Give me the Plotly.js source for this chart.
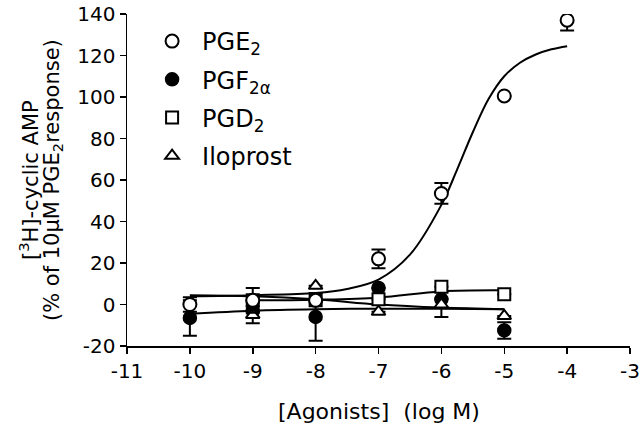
<!DOCTYPE html>
<html>
<head>
<meta charset="utf-8">
<script src="https://cdn.plot.ly/plotly-3.0.1.min.js"></script>
<style>html,body{margin:0;padding:0;background:#fff;}</style>
</head>
<body>
<div id="chart" style="width:640px;height:430px;"></div>
<script>
// Data
const logM = [-10, -9, -8, -7, -6, -5, -4];

const pge2 = [0, 2, 2, 22, 53.5, 100.5, 137];
const pge2Err = [3.5, 6, 0, 4.5, 5, 0, 5];

const pgf2aX = [-10, -9, -8, -7, -6, -5];
const pgf2a = [-6.5, -3, -6, 8, 2.5, -12.5];
const pgf2aErr = [8.5, 0, 11.5, 0, 0, 4];

const pgd2X = [-9, -8, -7, -6, -5];
const pgd2 = [2, 2, 2.5, 8.5, 5];
const pgd2Err = [0, 0, 0, 0, 0];

const iloX = [-9, -8, -7, -6, -5];
const ilo = [-5, 9, -3.5, 0, -5.5];
const iloErr = [4, 0, 0, 6, 0];

// Fitted curves
const pge2FitX = [-10, -9, -8, -7.5, -7, -6.5, -6, -5.75, -5.5, -5.25, -5, -4.75, -4.5, -4.25, -4];
const pge2FitY = [4, 4.5, 5.5, 7.5, 12, 24, 48, 65, 83, 99, 110, 116.5, 120.5, 123, 124.5];

const pgf2aFitX = [-10, -9, -8, -7, -6, -5];
const pgf2aFitY = [-4.5, -3, -2.3, -2, -2.1, -2.3];

const pgd2FitX = [-9, -8, -7, -6, -5];
const pgd2FitY = [2, 2.3, 3.3, 6.3, 6.8];

const iloFitX = [-10, -9, -8, -7, -6, -5];
const iloFitY = [4.5, 4, 2.5, 0, -1.5, -2.3];

const xTicks = [-11, -10, -9, -8, -7, -6, -5, -4, -3];
const yTicks = [-20, 0, 20, 40, 60, 80, 100, 120, 140];

const FONT = 'DejaVu Sans, Arial, sans-serif';
const lineStyle = {color: 'black', width: 2, shape: 'spline', smoothing: 1};

function fit(x, y) {
  return {x: x, y: y, mode: 'lines', line: lineStyle, showlegend: false, hoverinfo: 'skip', type: 'scatter'};
}
function err(arr) {
  return {type: 'data', array: arr, visible: true, color: 'black', thickness: 2, width: 7};
}

const traces = [
  fit(pgf2aFitX, pgf2aFitY),
  fit(iloFitX, iloFitY),
  fit(pgd2FitX, pgd2FitY),
  fit(pge2FitX, pge2FitY),
  {x: pgf2aX, y: pgf2a, name: 'PGF<sub>2α</sub>', mode: 'markers', type: 'scatter',
   legendrank: 2, legendgroup: 'b',
   marker: {symbol: 'circle', size: 13, color: 'black', line: {color: 'black', width: 1.5}},
   error_y: err(pgf2aErr)},
  {x: iloX, y: ilo, name: 'Iloprost', mode: 'markers', type: 'scatter',
   legendrank: 4, legendgroup: 'd',
   marker: {symbol: 'triangle-up', size: 12, color: 'white', line: {color: 'black', width: 2}},
   error_y: err(iloErr)},
  {x: pgd2X, y: pgd2, name: 'PGD<sub>2</sub>', mode: 'markers', type: 'scatter',
   legendrank: 3, legendgroup: 'c',
   marker: {symbol: 'square', size: 12, color: 'white', line: {color: 'black', width: 2}},
   error_y: err(pgd2Err)},
  {x: logM, y: pge2, name: 'PGE<sub>2</sub>', mode: 'markers', type: 'scatter',
   legendrank: 1, legendgroup: 'a',
   marker: {symbol: 'circle', size: 13, color: 'white', line: {color: 'black', width: 2}},
   error_y: err(pge2Err)}
];

const layout = {
  width: 640, height: 430,
  margin: {l: 127, r: 10, t: 14, b: 84},
  paper_bgcolor: 'white', plot_bgcolor: 'white',
  font: {family: FONT, color: 'black'},
  showlegend: true,
  legend: {x: 0.03, y: 0.985, xanchor: 'left', yanchor: 'top',
           font: {family: FONT, size: 24, color: 'black'},
           bgcolor: 'rgba(0,0,0,0)', itemwidth: 50, tracegroupgap: 4,
           traceorder: 'grouped'},
  xaxis: {range: [-11, -3], tickvals: xTicks, ticktext: xTicks.map(String),
          showline: true, linecolor: 'black', linewidth: 1.5, mirror: false,
          ticks: 'outside', ticklen: 6, tickwidth: 1.5, tickcolor: 'black',
          showgrid: false, zeroline: false,
          tickfont: {family: FONT, size: 20, color: 'black'}},
  yaxis: {range: [-20, 140], tickvals: yTicks, ticktext: yTicks.map(String),
          showline: true, linecolor: 'black', linewidth: 1.5,
          ticks: 'outside', ticklen: 6, tickwidth: 1.5, tickcolor: 'black',
          showgrid: false, zeroline: false,
          tickfont: {family: FONT, size: 20, color: 'black'}},
  annotations: [
    {text: '[<sup>3</sup>H]-cyclic AMP', textangle: -90, xref: 'paper', yref: 'paper',
     x: (29 - 127) / 503, y: 0.5, xanchor: 'center', yanchor: 'middle', showarrow: false,
     font: {family: FONT, size: 21, color: 'black'}},
    {text: '(% of 10μM PGE<sub>2</sub>response)', textangle: -90, xref: 'paper', yref: 'paper',
     x: (53 - 127) / 503, y: 0.5, xanchor: 'center', yanchor: 'middle', showarrow: false,
     font: {family: FONT, size: 21, color: 'black'}},
    {text: '[Agonists]&nbsp; (log M)', xref: 'paper', yref: 'paper',
     x: 0.5, y: -(411 - 346) / 332, xanchor: 'center', yanchor: 'middle', showarrow: false,
     font: {family: FONT, size: 22, color: 'black'}}
  ]
};

Plotly.newPlot('chart', traces, layout, {displayModeBar: false, staticPlot: true});
</script>
</body>
</html>
